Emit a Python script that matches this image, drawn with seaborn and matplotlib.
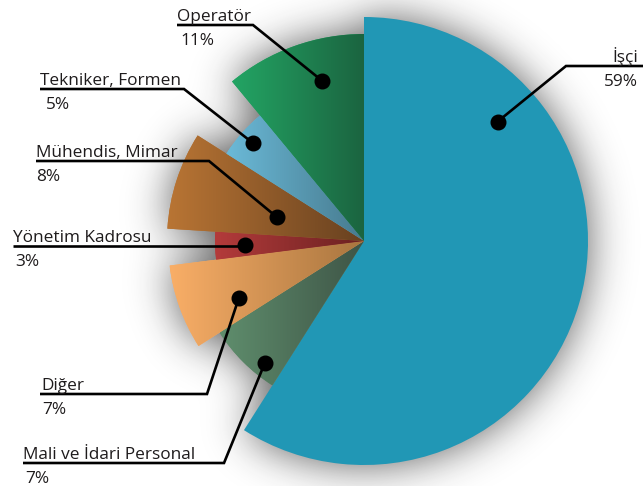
import numpy as np
import matplotlib
matplotlib.use("Agg")
import matplotlib.pyplot as plt
from matplotlib.colors import LinearSegmentedColormap
import seaborn as sns

# ---- data ----
categories = ["İşçi", "Mali ve İdari Personal", "Diğer", "Yönetim Kadrosu",
              "Mühendis, Mimar", "Tekniker, Formen", "Operatör"]
percentages = [59, 7, 7, 3, 8, 5, 11]
pct_labels = ["59%", "7%", "7%", "3%", "8%", "5%", "11%"]

# ---- style ----
slice_radius = [224, 171, 196, 149, 197, 163, 207]          # px
light_colors = ["#2197B5", "#5F8E6D", "#F9AE67", "#B43B3B", "#B97534", "#6BBAD8", "#23A564"]
dark_colors = ["#2197B5", "#3E5446", "#A8753F", "#6A2121", "#684120", "#477A8E", "#1B6440"]
# dot placement inside each wedge: (fraction along the arc, fraction of radius)
dot_place = [(0.227, 0.80), (0.266, 0.92), (0.32, 0.70), (0.49, 0.80),
             (0.41, 0.46), (0.50, 0.91), (0.63, 0.80)]
# label layout in pixels: (text x, underline y, corner x, line start x, ha)
label_layout = [(638, 66, 566, 643, "right"),
                (23, 463, 224, 23, "left"),
                (41, 394, 207, 40, "left"),
                (13, 246, None, 13, "left"),
                (36, 161, 209, 36, "left"),
                (40, 89, 184, 40, "left"),
                (177, 25, 253, 177, "left")]
pct_x = [638, 25, 42, 15, 36, 46, 180]

W, H = 643, 486
CX, CY = 364, 241


def px(x, y):
    return x - CX, CY - y


sns.set_theme(style="white")
plt.rcParams["font.family"] = ["Open Sans", "DejaVu Sans"]

fig = plt.figure(figsize=(W / 100, H / 100), dpi=100)
ax = fig.add_axes([0, 0, 1, 1])

wedges, _ = ax.pie(percentages, startangle=90, counterclock=False, radius=1,
                   wedgeprops=dict(linewidth=0))
for w, r, c in zip(wedges, slice_radius, light_colors):
    w.set_radius(r)
    w.set_facecolor(c)
    w.set_zorder(3)

xmin, xmax = -CX, W - CX
ymin, ymax = CY - H, CY
ax.set_xlim(xmin, xmax)
ax.set_ylim(ymin, ymax)
ax.set_aspect("equal")
ax.axis("off")

# ---- soft shadow from the composite pie shape ----
pad = 100
gx = np.arange(xmin - pad, xmax + pad) + 0.5
gy = np.arange(ymin - pad, ymax + pad) + 0.5
XX, YY = np.meshgrid(gx, gy)
RR = np.hypot(XX, YY)
AA = np.degrees(np.arctan2(YY, XX))
mask = np.zeros_like(RR)
for w in wedges:
    span = w.theta2 - w.theta1
    inside = ((AA - w.theta1) % 360) <= span
    mask[inside & (RR <= w.r)] = 1.0
sigma = 21
k = np.arange(-4 * sigma, 4 * sigma + 1)
kern = np.exp(-0.5 * (k / sigma) ** 2)
kern /= kern.sum()
blur = np.apply_along_axis(lambda v: np.convolve(v, kern, mode="same"), 1, mask)
blur = np.apply_along_axis(lambda v: np.convolve(v, kern, mode="same"), 0, blur)
blur = blur[pad:-pad, pad:-pad]
shadow = np.zeros(blur.shape + (4,))
shadow[..., :3] = 0.12
shadow[..., 3] = np.clip(blur * 0.72, 0, 1)
ax.imshow(shadow, extent=[xmin, xmax, ymin, ymax], origin="lower",
          zorder=1, interpolation="bilinear")

# ---- gradient fill for the small slices ----
for i, w in enumerate(wedges):
    if light_colors[i] == dark_colors[i]:
        continue
    ext = w.get_path().get_extents(w.get_patch_transform())
    x0 = ext.x0
    cmap = LinearSegmentedColormap.from_list(f"g{i}", [light_colors[i], dark_colors[i]])
    grad = np.linspace(0, 1, 256)[None, :]
    im = ax.imshow(grad, extent=[x0, 0, ext.y0, ext.y1], cmap=cmap, aspect="auto",
                   zorder=4, origin="lower", interpolation="bilinear")
    im.set_clip_path(w)
ax.set_xlim(xmin, xmax)
ax.set_ylim(ymin, ymax)

# ---- labels with leader lines ----
text_color = "#1E1B1C"
for i, w in enumerate(wedges):
    af, rf = dot_place[i]
    # clockwise pie: move from theta2 toward theta1
    ang = np.radians(w.theta2 - af * (w.theta2 - w.theta1))
    dx, dy = rf * w.r * np.cos(ang), rf * w.r * np.sin(ang)
    tx, uy, cx, sx, ha = label_layout[i]
    _, uyd = px(0, uy)
    sxd, _ = px(sx, 0)
    if cx is None:
        xs, ys = [sxd, dx], [uyd, uyd]
    else:
        cxd, _ = px(cx, 0)
        xs, ys = [sxd, cxd, dx], [uyd, uyd, dy]
    ax.plot(xs, ys, color="black", lw=1.9, solid_capstyle="butt",
            solid_joinstyle="miter", zorder=6)
    ax.plot([dx], [dy], "o", color="black", ms=10.5, zorder=7)
    txd, tyd = px(tx, uy - 4)
    ax.text(txd, tyd, categories[i], ha=ha, va="baseline", fontsize=12.4,
            color=text_color, zorder=8)
    pxd, pyd = px(pct_x[i], uy + 20)
    ax.text(pxd, pyd, pct_labels[i], ha=ha, va="baseline", fontsize=12.4,
            color=text_color, zorder=8)

fig.savefig("out.png", dpi=100, facecolor="white")
